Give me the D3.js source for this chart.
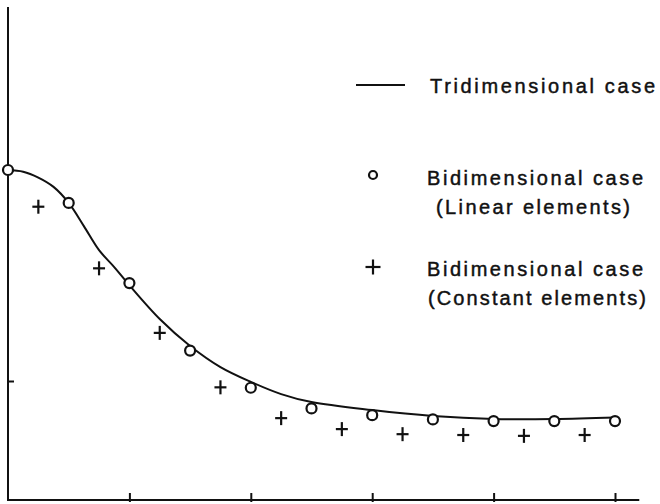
<!DOCTYPE html>
<html>
<head>
<meta charset="utf-8">
<script src="https://cdn.jsdelivr.net/npm/d3@7"></script>
<style>
  html, body { margin: 0; padding: 0; background: #fff; }
  svg { display: block; }
  text { font-family: "Liberation Sans", "DejaVu Sans", sans-serif; fill: #111; }
</style>
</head>
<body>
<svg id="chart" width="660" height="504"></svg>
<script>
// ---- data ----
const xTicks = [2, 4, 6, 8, 10];
const yTicks = [0.5, 1.0];

// Tridimensional case (continuous curve)
const triX = [0, 0.25, 0.5, 0.75, 1, 1.25, 1.5, 1.75, 2, 2.5, 3, 3.5, 4, 4.5, 5, 6, 7, 8, 9, 10];
const triY = [1.0, 0.996, 0.982, 0.960, 0.922, 0.867, 0.810, 0.770, 0.727, 0.647, 0.583, 0.533, 0.498, 0.469, 0.450, 0.431, 0.417, 0.410, 0.410, 0.4135];

// Bidimensional case, linear elements (circles)
const linX = [0, 1, 2, 3, 4, 5, 6, 7, 8, 9, 10];
const linY = [1.0, 0.922, 0.732, 0.572, 0.484, 0.435, 0.419, 0.409, 0.405, 0.405, 0.405];

// Bidimensional case, constant elements (crosses)
const conX = [0.5, 1.5, 2.5, 3.5, 4.5, 5.5, 6.5, 7.5, 8.5, 9.5];
const conY = [0.913, 0.767, 0.614, 0.485, 0.412, 0.386, 0.374, 0.372, 0.370, 0.372];

const legendLabels = [
  ["Tridimensional case"],
  ["Bidimensional case", "(Linear elements)"],
  ["Bidimensional case", "(Constant elements)"]
];

// ---- scales ----
const x = d3.scaleLinear().domain([0, 10]).range([8, 615]);
const y = d3.scaleLinear().domain([0.5, 1.0]).range([381, 170]);
const xEnd = 10.4, yBottom = 0.218, yTop = 1.386;

const svg = d3.select("#chart");
const ink = "#111";

// axes lines
svg.append("line")
  .attr("x1", x(0)).attr("x2", x(0))
  .attr("y1", y(yTop)).attr("y2", y(yBottom) + 1)
  .attr("stroke", ink).attr("stroke-width", 2);
svg.append("line")
  .attr("x1", x(0) - 1).attr("x2", x(xEnd))
  .attr("y1", y(yBottom)).attr("y2", y(yBottom))
  .attr("stroke", ink).attr("stroke-width", 2);

// x ticks (pointing up, slightly crossing)
const xAxis = d3.axisBottom(x).tickValues(xTicks).tickSizeInner(-7).tickSizeOuter(0).tickFormat("");
const gx = svg.append("g").attr("transform", `translate(0,${y(yBottom)})`).call(xAxis);
gx.select(".domain").remove();
gx.selectAll(".tick line").attr("y1", 2).attr("stroke", ink).attr("stroke-width", 2);

// y ticks (pointing right)
const yAxis = d3.axisLeft(y).tickValues(yTicks).tickSizeInner(-6).tickSizeOuter(0).tickFormat("");
const gy = svg.append("g").attr("transform", `translate(${x(0)},0)`).call(yAxis);
gy.select(".domain").remove();
gy.selectAll(".tick line").attr("stroke", ink).attr("stroke-width", 2);

// curve
const triData = triX.map((d, i) => [d, triY[i]]);
svg.append("path")
  .datum(triData)
  .attr("fill", "none")
  .attr("stroke", ink)
  .attr("stroke-width", 2)
  .attr("d", d3.line().x(d => x(d[0])).y(d => y(d[1])).curve(d3.curveCatmullRom.alpha(0.5)));

// circles
svg.append("g").selectAll("circle")
  .data(linX.map((d, i) => [d, linY[i]]))
  .join("circle")
  .attr("cx", d => x(d[0])).attr("cy", d => y(d[1]))
  .attr("r", 5)
  .attr("fill", "#fff").attr("stroke", ink).attr("stroke-width", 2.2);

// crosses
function plus(g, cx, cy, w, h) {
  g.append("line").attr("x1", cx - w / 2).attr("x2", cx + w / 2).attr("y1", cy).attr("y2", cy)
    .attr("stroke", ink).attr("stroke-width", 2.2);
  g.append("line").attr("x1", cx).attr("x2", cx).attr("y1", cy - h / 2).attr("y2", cy + h / 2)
    .attr("stroke", ink).attr("stroke-width", 2.2);
}
const gp = svg.append("g");
conX.forEach((d, i) => plus(gp, x(d), y(conY[i]), 12, 14));

// legend
const lg = svg.append("g");
lg.append("line").attr("x1", 356).attr("x2", 405).attr("y1", 85).attr("y2", 85)
  .attr("stroke", ink).attr("stroke-width", 2);
lg.append("circle").attr("cx", 373).attr("cy", 175).attr("r", 4)
  .attr("fill", "#fff").attr("stroke", ink).attr("stroke-width", 2.2);
plus(lg, 373, 267, 15, 15);

const textSpecs = [
  { t: legendLabels[0][0], x: 430, y: 92.5, w: 225 },
  { t: legendLabels[1][0], x: 427, y: 184.5, w: 216 },
  { t: legendLabels[1][1], x: 436, y: 213.5, w: 194 },
  { t: legendLabels[2][0], x: 427, y: 275.5, w: 216 },
  { t: legendLabels[2][1], x: 428, y: 305, w: 218 }
];
lg.selectAll("text")
  .data(textSpecs)
  .join("text")
  .attr("x", d => d.x).attr("y", d => d.y)
  .attr("font-size", 20)
  .attr("stroke", "#111").attr("stroke-width", 0.45)
  .attr("textLength", d => d.w)
  .attr("lengthAdjust", "spacing")
  .text(d => d.t);
</script>
</body>
</html>
